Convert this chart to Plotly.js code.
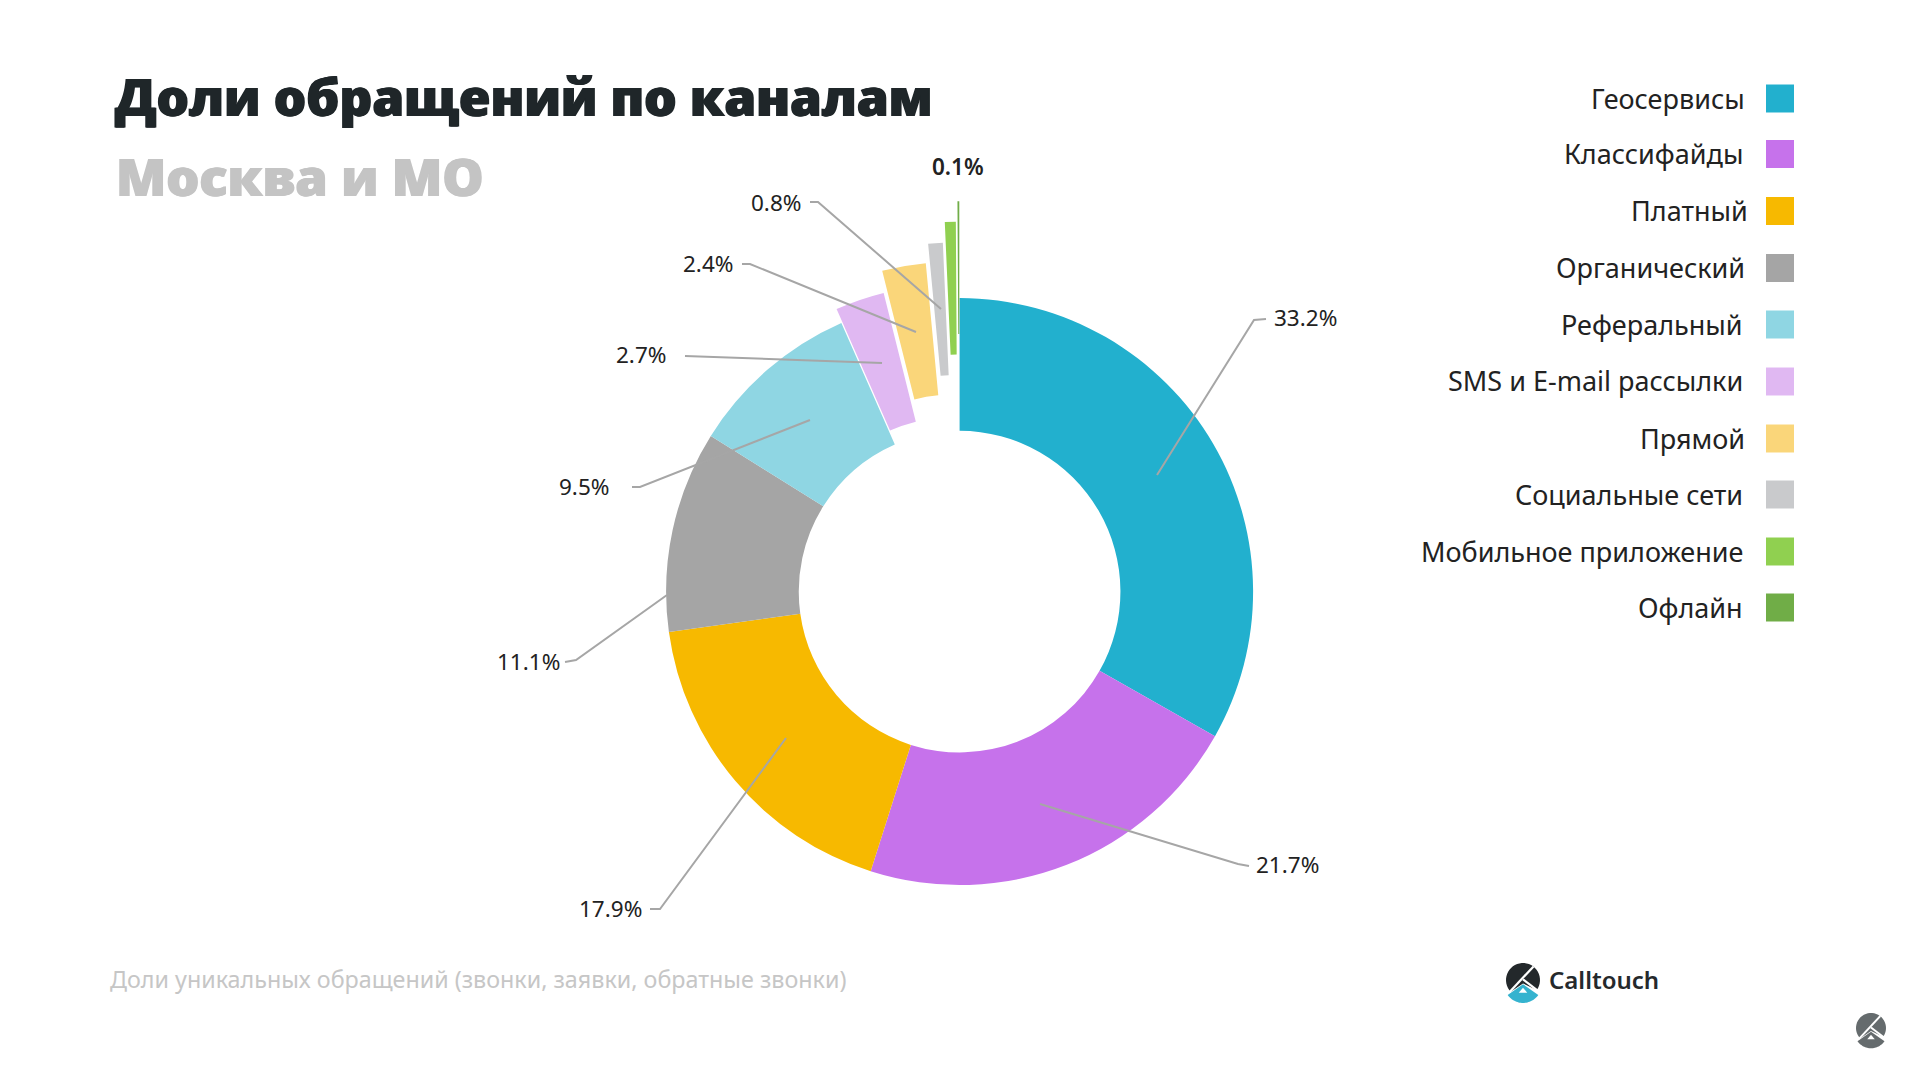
<!DOCTYPE html>
<html><head><meta charset="utf-8">
<script src="https://cdn.plot.ly/plotly-3.0.1.min.js"></script>
<style>html,body{margin:0;padding:0;background:#fff}#c{width:1907px;height:1068px}</style>
</head><body><div id="c"></div>
<script>
const W = 1907, H = 1068;
const categories = ["Геосервисы","Классифайды","Платный","Органический","Реферальный","SMS и E-mail рассылки","Прямой","Социальные сети","Мобильное приложение","Офлайн"];
const shares = [33.2,21.7,17.9,11.1,9.5,2.7,2.4,0.8,0.6,0.1];
const colors = ["#22b0ce","#c672eb","#f7b900","#a5a5a5","#8fd6e3","#e0b8f2","#fad67a","#c9cacc","#90d050","#70ad47"];
const pulls = [0,0,0,0,0,0.05,0.125,0.19,0.26,0.33];
const legendRight = [1747,1745,1750,1747,1745,1745,1747,1745,1745,1745];
const legendY = [98,153.5,210.5,267.5,324,381,438,494,551,607];
// label index, centre of label, leader polyline
const valueLabels = [
 {i:0,x:1305,y:318,line:[[1157,475],[1254,320],[1266,319]]},
 {i:1,x:1287,y:864,line:[[1040,804],[1238,864],[1249,866]]},
 {i:2,x:610,y:908,line:[[786,738],[660,909],[650,909]]},
 {i:3,x:528,y:661,line:[[667,595],[576,660],[565,662]]},
 {i:4,x:584,y:486,line:[[810,420],[640,487],[632,487]]},
 {i:5,x:641,y:354,line:[[882,363],[685,356]]},
 {i:6,x:708,y:264,line:[[916,332],[750,264],[742,264]]},
 {i:7,x:776,y:202,line:[[941,309],[818,202],[810,202]]},
 {i:9,x:958,y:166,line:null}
];
const cx = 959.6, cy = 591.6, R = 293.5, maxPull = 0.33;
const half = R*(1+maxPull);
const px = x => x/W, py = y => 1-y/H;
const font = '"Noto Sans", "Open Sans", sans-serif';
const pathOf = pts => pts.map((p,k)=>(k?'L':'M')+px(p[0]).toFixed(5)+','+py(p[1]).toFixed(5)).join(' ');

const annotations = [], shapes = [];
function text(t,x,y,size,color,anchor,weight,fam,shadow){
  annotations.push({text:t,x:px(x),y:py(y),xref:'paper',yref:'paper',showarrow:false,xanchor:anchor,yanchor:'middle',
    font:{family:fam||font,size:size,color:color,weight:weight||400,shadow:shadow||'none'}});
}
valueLabels.forEach(l=>{
  text(shares[l.i].toFixed(1)+'%',l.x,l.y,22.5,'#222222','center',l.i===9?600:400);
  if(l.line) shapes.push({type:'path',xref:'paper',yref:'paper',path:pathOf(l.line),line:{color:'#a6a6a6',width:2}});
});
categories.forEach((c,k)=>{
  text(c,legendRight[k],legendY[k],27,'#222222','right',400);
  shapes.push({type:'rect',xref:'paper',yref:'paper',x0:px(1766),x1:px(1794),y0:py(legendY[k]+0.5-14),y1:py(legendY[k]+0.5+14),
    fillcolor:colors[k],line:{width:0}});
});
text('Москва и МО',114,176,52,'#c4c4c4','left',800,'"Open Sans", sans-serif','0.8px 0 #c4c4c4, -0.8px 0 #c4c4c4');
text('Доли уникальных обращений (звонки, заявки, обратные звонки)',108,979,23.3,'#c6c6c6','left',400);
text('Calltouch',1547,979,24,'#25292c','left',600);

// logo marks
function logo(x0,y0,r,dark,accent){
  const arc=(a0,a1,rr,yc,n=32)=>{const o=[];for(let i=0;i<=n;i++){const a=(a0+(a1-a0)*i/n)*Math.PI/180;o.push([x0+rr*r*Math.sin(a),y0+yc*r-rr*r*Math.cos(a)]);}return o;};
  const U=(a,b)=>[x0+a*r,y0+b*r];
  const add=(pts,fill)=>shapes.push({type:'path',xref:'paper',yref:'paper',path:pathOf(pts)+' Z',fillcolor:fill,line:{width:0}});
  const stroke=(pts)=>shapes.push({type:'path',xref:'paper',yref:'paper',path:pathOf(pts),line:{color:'#ffffff',width:Math.max(1.5,r*0.13)}});
  add(arc(226,486,1,0).concat([U(0,0.2)]),dark);
  add(arc(125,235,1.1,0.25).concat([U(0,0.25)]),accent);
  add([U(0,0.45),U(-0.25,0.75),U(0.25,0.75)],'#ffffff');
  stroke([U(0.62,-0.8),U(-0.8,0.72)]);
  stroke([U(0,-0.04),U(0.98,0.72)]);
}
logo(1523,980,17,'#23282b','#35b3cf');
logo(1871,1028,15,'#656b6d','#656b6d');

Plotly.newPlot('c',[{
  type:'pie',labels:categories,values:shares,sort:false,direction:'clockwise',rotation:0,
  hole:0.548,pull:pulls,textinfo:'none',hoverinfo:'label+percent',showlegend:false,
  marker:{colors:colors,line:{width:0}},
  domain:{x:[px(cx-half),px(cx+half)],y:[py(cy+half),py(cy-half)]}
}],{
  width:W,height:H,margin:{l:0,r:0,t:0,b:0},paper_bgcolor:'#fff',showlegend:false,
  title:{text:'Доли обращений по каналам',x:px(115),xref:'paper',xanchor:'left',y:py(98),yref:'paper',yanchor:'middle',
    font:{family:'"Open Sans", sans-serif',size:51,color:'#1f2629',weight:800,shadow:'0.8px 0 #1f2629, -0.8px 0 #1f2629'}},
  annotations:annotations,shapes:shapes
},{staticPlot:true});
</script></body></html>
